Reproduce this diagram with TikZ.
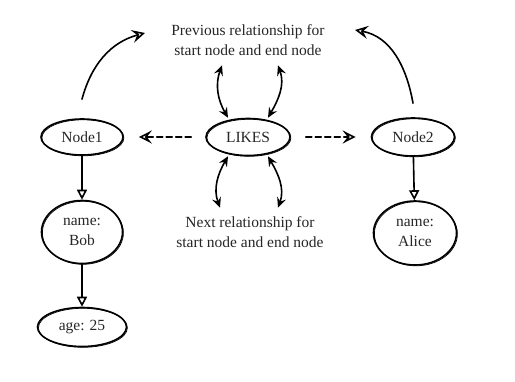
\documentclass[tikz,border=0pt]{standalone}
\usepackage{fontspec}
\setmainfont{Liberation Serif}
\usetikzlibrary{arrows.meta,shapes.geometric}

\begin{document}
\begin{tikzpicture}[x=1pt,y=1pt,line width=1.6pt,line cap=round,line join=round,
  font=\fontsize{15.5}{20}\selectfont,text=black!85,
  ent/.style n args={2}{ellipse,draw,minimum width=#1,minimum height=#2,inner sep=0pt,align=center,
     postaction={draw,line width=0.7pt,transform canvas={shift={(0.9,-0.8)}}}},
  prop/.style={-{Triangle[open,length=10pt,width=10pt]}},
  curv/.style={-{Stealth[open,length=13pt,width=13pt,inset=5pt]}},
  dsh/.style={curv,dash pattern=on 6pt off 3.5pt},
  dbl/.style={{Stealth[open,length=10pt,width=9pt,inset=3.5pt]}-{Stealth[open,length=10pt,width=9pt,inset=3.5pt]}}]
\useasboundingbox (0,0) rectangle (515,381);

\node[ent={82pt}{36pt}] (n1) at (82,244) {Node1};
\node[ent={84pt}{37pt}] (lk) at (248,244) {LIKES};
\node[ent={83pt}{38pt}] (n2) at (413,244) {Node2};
\node[ent={81pt}{63pt}] (bob) at (82,149) {name:\\Bob};
\node[ent={89pt}{39pt}] (age) at (82,54) {age: 25};
\node[ent={83pt}{64pt}] (alice) at (415,148) {name:\\Alice};

\node[align=center,inner sep=0pt] (prev) at (248,341) {Previous relationship for\\start node and end node};
\node[align=center,inner sep=0pt] (nxt) at (250,149) {Next relationship for\\start node and end node};
\coordinate (p1) at (145,348);
\coordinate (p2) at (355,351);

% node properties
\draw[prop] (n1) -- (bob);
\draw[prop] (bob) -- (age);
\draw[prop] (n2) -- (alice);

% start and end node
\draw[dsh] ([xshift=-14pt]lk.west) -- ([xshift=15pt]n1.east);
\draw[dsh] ([xshift=15pt]lk.east) -- ([xshift=-15pt]n2.west);
\draw[curv] ([yshift=19pt]n1.north) to[out=75,in=195] (p1);
\draw[curv] ([yshift=14pt]n2.north) to[out=100,in=-10] (p2);

% previous and next pointers
\foreach \a/\b/\o/\i in %
{-20/-26/120/-110,20/30/60/-70} {
   \draw[dbl] ([xshift=\a]lk.north) to[out=\o,in=\i] ([shift={(\b,-9)}]prev.south);
}
\foreach \a/\b/\o/\i in %
{-20/-30/-120/110,20/28/-60/70} {
   \draw[dbl] ([xshift=\a]lk.south) to[out=\o,in=\i] ([shift={(\b,8)}]nxt.north);
}
\end{tikzpicture}
\end{document}
